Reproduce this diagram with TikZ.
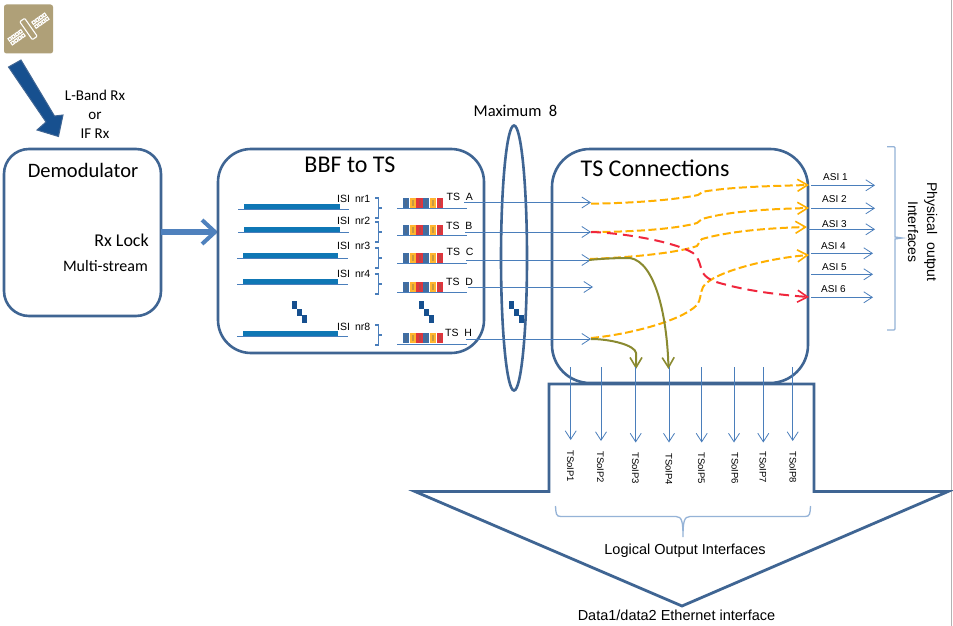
\documentclass[tikz,border=0pt]{standalone}
\usepackage{fontspec}
\setmainfont{Carlito}
\newfontfamily\arialf{Liberation Sans}
\usetikzlibrary{arrows.meta,shapes.geometric}
\definecolor{frame}{HTML}{3F6593}
\definecolor{thin}{HTML}{4A7EBB}
\definecolor{pale}{HTML}{95B3D7}
\definecolor{navy}{HTML}{17508F}
\definecolor{isi}{HTML}{0F77B5}
\definecolor{amber}{HTML}{FFB000}
\definecolor{redd}{HTML}{F0263C}
\definecolor{olive}{HTML}{8A8A30}
\definecolor{sat}{HTML}{AFA078}
\definecolor{midblue}{HTML}{4F81BD}
\tikzset{
  x=1pt,y=-1pt,
  box/.style={draw=frame,line width=2.6pt,fill=white},
  thinline/.style={draw=thin,line width=1pt},
  arr/.style={thinline,-{Straight Barb[length=8.5pt,width=11pt,line width=.8pt]}},
  amb/.style={draw=amber,line width=2pt,dash pattern=on 8pt off 3.5pt,-{Straight Barb[length=10pt,width=12pt,line width=1.6pt]}},
  redl/.style={draw=redd,line width=2pt,dash pattern=on 10pt off 6pt,-{Straight Barb[length=10pt,width=12pt,line width=1.6pt]}},
  oliv/.style={draw=olive,line width=2pt,-{Straight Barb[length=10pt,width=12pt,line width=1.6pt]}},
  lab/.style={font=\arialf\fontsize{10.5}{12}\selectfont,inner sep=0pt,text=black},
  lbl/.style={font=\arialf\fontsize{10}{12}\selectfont,inner sep=0pt,text=black},
  cal/.style={font=\fontsize{16}{19}\selectfont,inner sep=0pt,text=black},
  title/.style={font=\fontsize{24}{28}\selectfont,inner sep=0pt,text=black},
  arl/.style={font=\arialf\fontsize{14.5}{19}\selectfont,inner sep=0pt,text=black},
  brace/.style={draw=thin,line width=1.4pt},
  dotb/.style={fill=navy,draw=none},
}
\newcommand{\tsblock}[2]{%
  \foreach \i/\c in {0/3F6EA5,1/FFB52E,2/E0353C,3/3F6EA5,4/FFB52E,5/E0353C}{
    \definecolor{tmp}{HTML}{\c}
    \fill[tmp] ({#1+\i*6.7},#2) rectangle ++(6.3,10);
    \fill[black!60,opacity=.35] ({#1+\i*6.7+2.2},{#2+2}) rectangle ++(1.9,6);
  }}
\newcommand{\stepdots}[2]{%
  \fill[dotb] (#1,#2) rectangle ++(5,7.5);
  \fill[dotb] ({#1+5},{#2+7.5}) rectangle ++(5,7.5);
  \fill[dotb] ({#1+10},{#2+14}) rectangle ++(5,7.5);}
\begin{document}
\begin{tikzpicture}
\useasboundingbox (0,0) rectangle (953,626);
\fill[white] (0,0) rectangle (953,626);
\draw[gray!60,line width=1pt] (951.5,0) -- (951.5,626);
% satellite
\node[fill=sat,rounded corners=2.5pt,minimum width=49pt,minimum height=49pt,inner sep=0pt] (sat) at (28.5,29) {};
\begin{scope}[shift={(28.5,29)},rotate=35]
  \draw[white,line width=1.1pt,rounded corners=1pt] (-3,-11) rectangle (3,11);
  \foreach \p in {-21,-16.7,-12.4,-8.1,8.1,12.4,16.7,21}{\foreach \q in {-2.4,2.4}{
    \draw[white,line width=1.1pt] ({\p-1.4},{\q-1.4}) rectangle ++(2.8,2.8);}}
\end{scope}
% demod
\node[box,rounded corners=25pt,minimum width=157pt,minimum height=167pt,inner sep=0pt] (demod) at (82.5,232.5) {};
\node[title,anchor=base,font=\fontsize{20.5}{24}\selectfont] (tdemod) at (83,177) {Demodulator};
\node[cal,anchor=base east,font=\fontsize{18}{20}\selectfont] (rxl) at (149,246.7) {Rx Lock};
\node[cal,anchor=base east] (ms) at (148,271) {Multi-stream};
\node[cal,align=center,font=\fontsize{15}{19}\selectfont] (band) at (95,114) {L-Band Rx\\or\\IF Rx};
% big arrows
\draw[draw=frame,fill=navy,line width=1pt] (8.5,67) -- (21,60) -- (54.5,116) -- (63,115) -- (58.5,136.5) -- (37,130) -- (46,122) -- cycle;
\coordinate (b1) at (161,232);
\coordinate (b2) at (218,232);
\draw[line width=5.5pt,draw=midblue,-{Straight Barb[length=13pt,width=24pt,line width=4pt]}] (b1) -- (b2);
% bbf
\node[box,rounded corners=33pt,minimum width=266pt,minimum height=204pt,inner sep=0pt] (bbf) at (351,251) {};
\node[title,anchor=base] (tbbf) at (350,172) {BBF to TS};
% ts conn
\node[box,rounded corners=38pt,minimum width=256pt,minimum height=234pt,inner sep=0pt] (conn) at (680,266) {};
\node[title,anchor=base west] (tconn) at (580.5,176) {TS Connections};
% ellipse
\node[ellipse,draw=frame,line width=2.6pt,minimum width=26pt,minimum height=265pt,inner sep=0pt] (ell) at (514,258) {};
\node[cal,font=\fontsize{16.5}{19}\selectfont,anchor=base] (max) at (515.5,116) {Maximum\ \ 8};
% ISI
\foreach \xa/\xb/\y/\bx/\bxx/\lab/\ly in {
  238/349/209/244/340/nr1/202,
  238/349/232/244/340/nr2/224.5,
  237/348/258/243/338/nr3/249.5,
  237/348/284/243/338/nr4/277,
  237/348/336/243/338/nr8/330}{
  \fill[isi] (\bx,{\y-5.5}) rectangle (\bxx,\y);
  \draw[thinline] (\xa,\y) -- (\xb,\y);
  \node[lab,anchor=base west] at (337,\ly) {ISI\hspace{5pt}\lab};
}
% braces
\foreach \y in {198,222,248,274,325}{
  \draw[brace] (375,\y) -- ++(3.5,0) -- ++(0,10) -- ++(3.5,0) ++(-3.5,0) -- ++(0,10) -- ++(-3.5,0);
}
% ts blocks
\tsblock{403}{198}\tsblock{403}{225}\tsblock{403}{253}\tsblock{403}{282}\tsblock{403}{333}
\foreach \y in {208,235,263,292,344}{\draw[thinline] (397,\y) -- (467,\y);}
\node[lab,anchor=base west] at (446.5,200) {TS\ \ A};
\node[lab,anchor=base west] at (446,229) {TS\ \ B};
\node[lab,anchor=base west] at (446.5,255) {TS\ \ C};
\node[lab,anchor=base west] at (446,285) {TS\ \ D};
\node[lab,anchor=base west] at (445,336) {TS\ \ H};
\stepdots{292}{301}\stepdots{419}{301}\stepdots{509}{301}
% TS outgoing arrows
\coordinate (ia) at (464,202.5); \coordinate (ea) at (591,202.5);
\coordinate (ib) at (465,232); \coordinate (eb) at (591,232);
\coordinate (ic) at (466,260); \coordinate (ec) at (591,260);
\coordinate (id) at (468,287); \coordinate (ed) at (593,287);
\coordinate (ih) at (466,339); \coordinate (eh) at (591,339);
\foreach \p/\q in {ia/ea,ib/eb,ic/ec,id/ed,ih/eh}{\draw[arr] (\p) -- (\q);}
% ASI
\foreach \y/\x/\xe/\n/\lx/\ly in {
  185.3/811/875/1/823/180,
  208.3/811/875/2/822/202.7,
  229.3/808/875/3/822/227,
  253.3/811/873/4/821/249,
  274.3/811/873/5/822/270,
  297.3/811/873/6/821/292.5}{
  \coordinate (as\n) at (\x,\y);
  \coordinate (ae\n) at (\xe,\y);
  \draw[arr] (as\n) -- (ae\n);
  \node[lbl,anchor=base west] at (\lx,\ly) {ASI \n};
}
% connections
\coordinate (ta) at (809,185);
\coordinate (tb) at (809,208);
\coordinate (tc) at (807,227);
\coordinate (td) at (809,255);
\coordinate (tf) at (809,297);
\draw[amb] (591,203.7) .. controls (640,203) and (680,199) .. (698,195) .. controls (700,194) and (701,192.5) .. (703,191.7) .. controls (730,187) and (770,186) .. (ta);
\draw[amb] (591,232) .. controls (640,232) and (680,228) .. (697,223) .. controls (699,222) and (700,220) .. (702,219) .. controls (730,211) and (770,209) .. (tb);
\draw[amb] (590,259) .. controls (640,257) and (680,252) .. (697,246) .. controls (699,244) and (700,240) .. (702,239) .. controls (730,231) and (770,228) .. (tc);
\draw[amb] (591,338) .. controls (625,335) and (680,322) .. (697,305) .. controls (701,300) and (700,293) .. (703,287) .. controls (712,272) and (770,258) .. (td);
\draw[redl] (591,232) .. controls (625,233) and (675,242) .. (693,253) .. controls (700,258) and (700,268) .. (703,273) .. controls (708,281) and (720,283) .. (727,285) .. controls (750,291) and (780,295) .. (tf);
\coordinate (o1) at (636,369);
\coordinate (o2) at (668.5,369);
\draw[oliv] (589,260) .. controls (603,258.5) and (618,258) .. (630,258) .. controls (655,262) and (667,315) .. (o2);
\draw[oliv] (591,339) .. controls (610,339) and (635,345) .. (636,353) -- (o1);
% bottom arrow
\node[draw=none,inner sep=0pt] (tip) at (682,606) {};
\draw[draw=frame,line width=2.8pt,line join=miter] (549,384) -- (814,384) -- (814,491.5) -- (948,491.5) -- (tip.center) -- (415,491.5) -- (549,491.5) -- cycle;
% TSoIP
\foreach \x/\ye/\n/\lx/\ly in {
  570.7/440/1/570.7/450,
  601/441/2/600.7/451,
  635.7/442.5/3/635.7/452,
  669/442.5/4/669/453,
  701.7/442.5/5/701.7/452,
  734/442.5/6/735/452,
  763.3/442.5/7/763/451,
  792.7/441/8/793/451}{
  \coordinate (t\n) at (\x,367);
  \coordinate (u\n) at (\x,\ye);
  \draw[arr] (t\n) -- (u\n);
  \node[lbl,rotate=-90,anchor=base west,font=\arialf\fontsize{9.5}{12}\selectfont] at ({\lx-3.5},\ly) {TSoIP\n};
}
% bottom brace
\draw[draw=pale,line width=1.3pt] (555.5,506) .. controls (556,514) and (556,516.5) .. (561,516.5) -- (676,516.5) .. controls (682,516.5) and (683,522) .. (683,537) .. controls (683,522) and (684,516.5) .. (690,516.5) -- (805,516.5) .. controls (810,516.5) and (810,514) .. (810.5,506);
\node[arl,anchor=base] (lo) at (685,554.5) {Logical\ Output Interfaces};
\node[arl,anchor=base] (eth) at (676.5,620) {Data1/data2 Ethernet interface};
% right brace
\draw[draw=pale,line width=1.3pt] (887,146.7) -- (894,146.7) -- (895,147.7) -- (895,237) -- (902,238) -- (895,239) -- (895,329) -- (894,330) -- (887,330);
\node[arl,font=\arialf\fontsize{14}{19}\selectfont,rotate=-90,align=center] (phys) at (922.5,232) {Physical\ \ output\\Interfaces};
\end{tikzpicture}
\end{document}
